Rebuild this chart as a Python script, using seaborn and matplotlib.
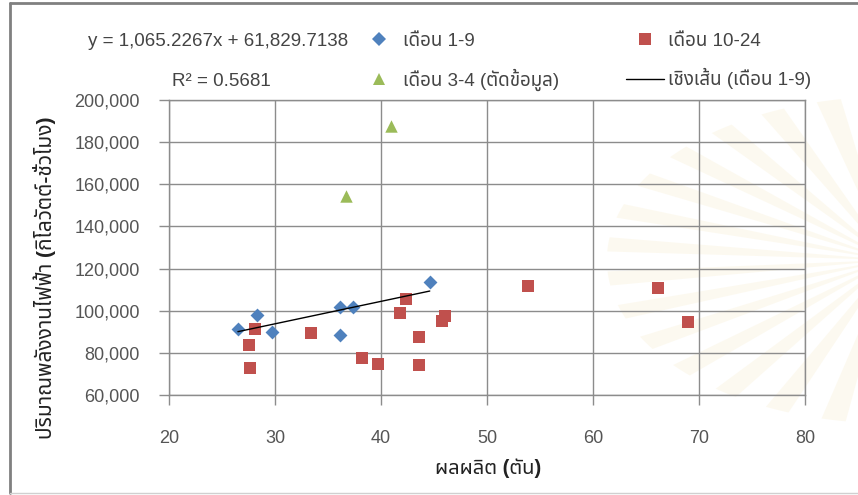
import matplotlib
matplotlib.use("Agg")
import matplotlib.pyplot as plt
from matplotlib import font_manager
from matplotlib.ft2font import FT2Font
from matplotlib.lines import Line2D
from matplotlib.patches import Wedge
import pandas as pd
import seaborn as sns

# ---- data -------------------------------------------------------------
months_1_9_x = [26.5, 28.3, 29.7, 36.1, 37.4, 36.1, 44.6]
months_1_9_y = [91300, 98000, 90000, 101600, 101900, 88400, 113700]

months_10_24_x = [28.1, 27.5, 27.6, 33.4, 38.2, 39.7, 41.8, 42.4, 43.6, 43.6,
                  45.8, 46.0, 53.9, 66.1, 69.0]
months_10_24_y = [91300, 83700, 72700, 89500, 77400, 74600, 98700, 105400,
                  87600, 74200, 95100, 97400, 111700, 110600, 94500]

months_3_4_x = [36.7, 40.9]
months_3_4_y = [154500, 187600]

trend_slope = 1065.2267
trend_intercept = 61829.7138
trend_r2 = 0.5681

x_ticks = [20, 30, 40, 50, 60, 70, 80]
y_ticks = [60000, 80000, 100000, 120000, 140000, 160000, 180000, 200000]

label_1_9 = "เดือน 1-9"
label_10_24 = "เดือน 10-24"
label_3_4 = "เดือน 3-4 (ตัดข้อมูล)"
label_trend = "เชิงเส้น (เดือน 1-9)"
x_title = "ผลผลิต (ตัน)"
y_title = "ปริมาณพลังงานไฟฟ้า (กิโลวัตต์-ชั่วโมง)"


# ---- fonts: Latin from an Arial-like face, Thai from any face that has it --
def find_thai_family():
    preferred = ["Tahoma", "Noto Sans Thai", "Noto Sans Thai UI", "Loma",
                 "Garuda", "Sarabun", "Waree", "Umpush", "Norasi", "Kinnari",
                 "Sawasdee", "Laksaman"]
    found = {}
    for f in font_manager.fontManager.ttflist:
        if f.name in found:
            continue
        try:
            cmap = FT2Font(f.fname).get_charmap()
        except Exception:
            continue
        if 0x0E40 in cmap and 0x0E14 in cmap and 0x0E37 in cmap:
            found[f.name] = f.fname
    for name in preferred:
        if name in found:
            return name
    return next(iter(found), None)


sns.set_theme(style="white")
thai = find_thai_family()
families = ["Liberation Sans"]
if thai:
    families.append(thai)
families.append("DejaVu Sans")
plt.rcParams["font.family"] = families

W, H = 858, 495
fig = plt.figure(figsize=(W / 100, H / 100), dpi=100)
fig.patch.set_facecolor("white")


def fx(px):
    return px / W


def fy(py):
    return 1 - py / H


# faint emblem rays in the background on the right
for ang in range(100, 260, 12):
    w = Wedge((fx(890), fy(260)), 0.33, ang, ang + 5,
              transform=fig.transFigure, facecolor="#f4e4b4",
              edgecolor="none", alpha=0.2)
    w.set_zorder(-5)
    fig.add_artist(w)

ax = fig.add_axes([fx(169), fy(395), fx(805) - fx(169), fy(100) - fy(395)])
ax.set_facecolor("none")
ax.set_zorder(1)

blue = "#4F81BD"
red = "#C0504D"
green = "#9BBB59"
grid_c = "#8c8c8c"

sns.scatterplot(x=months_1_9_x, y=months_1_9_y, ax=ax, marker="D", s=50,
                color=blue, linewidth=0, zorder=4)
sns.scatterplot(x=months_10_24_x, y=months_10_24_y, ax=ax, marker="s", s=66,
                color=red, linewidth=0, zorder=3)
sns.scatterplot(x=months_3_4_x, y=months_3_4_y, ax=ax, marker="^", s=80,
                color=green, linewidth=0, zorder=3)

trend_x = [min(months_1_9_x), max(months_1_9_x)]
trend_df = pd.DataFrame({"x": trend_x,
                         "y": [trend_slope * v + trend_intercept for v in trend_x]})
sns.lineplot(data=trend_df, x="x", y="y", ax=ax, color="black", linewidth=1.0,
             zorder=5)

ax.set_xlim(x_ticks[0], x_ticks[-1])
ax.set_ylim(y_ticks[0], y_ticks[-1])
ax.set_xticks(x_ticks)
ax.set_yticks(y_ticks)
ax.set_yticklabels([f"{v:,}" for v in y_ticks])
ax.set_xlabel("")
ax.set_ylabel("")
ax.grid(True, color=grid_c, linewidth=1.0)
ax.set_axisbelow(True)
for sp in ax.spines.values():
    sp.set_color(grid_c)
    sp.set_linewidth(1.0)
ax.tick_params(axis="both", which="major", direction="out", length=7,
               width=1.0, color=grid_c, labelsize=13, labelcolor="#555555")
ax.tick_params(axis="x", pad=18)
ax.tick_params(axis="y", pad=14)
ax.tick_params(bottom=True, left=True)

# axis titles
fig.text(fx(488), fy(468), x_title, ha="center", va="center", fontsize=14.5,
         fontweight="bold", color="#222222")
fig.text(fx(45), fy(278), y_title, ha="center", va="center", rotation=90,
         fontsize=15, fontweight="bold", color="#222222")

# trendline equation and R²
fig.text(fx(88), fy(42), f"y = {trend_slope:,.4f}x + {trend_intercept:,.4f}",
         ha="left", va="center", fontsize=13.5, color="#444444")
fig.text(fx(172), fy(82), f"R² = {trend_r2}", ha="left", va="center",
         fontsize=13.5, color="#444444")

# legend
handles = [
    Line2D([], [], marker="D", linestyle="none", color=blue, markersize=7,
           markeredgewidth=0),
    Line2D([], [], marker="^", linestyle="none", color=green, markersize=9,
           markeredgewidth=0),
    Line2D([], [], marker="s", linestyle="none", color=red, markersize=8,
           markeredgewidth=0),
    Line2D([], [], color="black", linewidth=1.0),
]
labels = [label_1_9, label_3_4, label_10_24, label_trend]
leg = fig.legend(handles, labels, ncol=2, loc="center",
                 bbox_to_anchor=(fx(586), fy(61.5)), frameon=False,
                 fontsize=13.5, handlelength=2.0, handletextpad=0.25,
                 columnspacing=3.6, labelspacing=1.0, borderpad=0)
for t in leg.get_texts():
    t.set_color("#444444")

# outer frame
frame_c = "#808080"
fig.add_artist(Line2D([fx(10), fx(10)], [fy(3), fy(493)], color=frame_c,
                      linewidth=2, transform=fig.transFigure))
fig.add_artist(Line2D([fx(10), 1], [fy(3), fy(3)], color=frame_c,
                      linewidth=2, transform=fig.transFigure))
fig.add_artist(Line2D([fx(10), 1], [fy(493), fy(493)], color="#d0d0d0",
                      linewidth=1, transform=fig.transFigure))

fig.savefig("out.png", dpi=100)
